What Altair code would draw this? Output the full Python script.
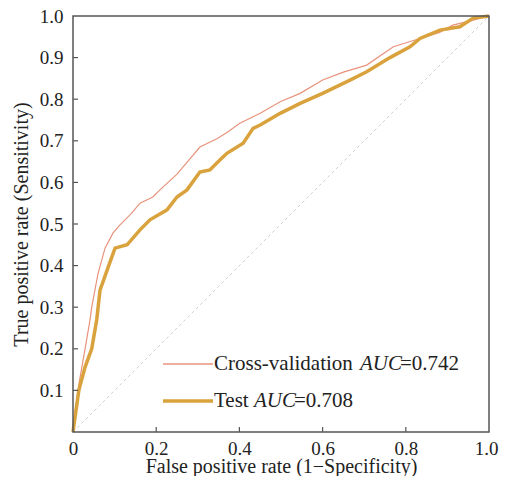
import altair as alt
import pandas as pd

# ROC curve values
cv_fpr = [0, 0.005, 0.015, 0.029, 0.041, 0.045, 0.06, 0.077, 0.096, 0.113, 0.14, 0.161, 0.192, 0.209, 0.25, 0.274,
          0.305, 0.346, 0.37, 0.401, 0.45, 0.498, 0.546, 0.60, 0.65, 0.706, 0.77, 0.834, 0.88, 0.913, 0.962, 1.0]
cv_tpr = [0, 0.05, 0.12, 0.2, 0.27, 0.30, 0.38, 0.442, 0.478, 0.498, 0.525, 0.55, 0.565, 0.582, 0.62, 0.648,
          0.685, 0.705, 0.72, 0.742, 0.766, 0.794, 0.814, 0.846, 0.865, 0.882, 0.926, 0.946, 0.96, 0.978, 0.99, 1.0]

test_fpr = [0, 0.007, 0.014, 0.029, 0.045, 0.057, 0.065, 0.082, 0.101, 0.13, 0.161, 0.185, 0.226, 0.25, 0.274,
            0.305, 0.329, 0.353, 0.37, 0.409, 0.433, 0.45, 0.498, 0.546, 0.60, 0.666, 0.706, 0.762, 0.81, 0.834,
            0.882, 0.93, 0.962, 1.0]
test_tpr = [0, 0.05, 0.1, 0.156, 0.2, 0.27, 0.341, 0.389, 0.442, 0.45, 0.486, 0.51, 0.534, 0.565, 0.582,
            0.625, 0.63, 0.654, 0.67, 0.694, 0.73, 0.738, 0.766, 0.79, 0.814, 0.846, 0.866, 0.90, 0.926, 0.946,
            0.966, 0.974, 0.995, 1.0]

diag_x = [0, 1]
diag_y = [0, 1]

x_ticks = [0, 0.2, 0.4, 0.6, 0.8, 1.0]
y_ticks = [0.1, 0.2, 0.3, 0.4, 0.5, 0.6, 0.7, 0.8, 0.9, 1.0]

legend_parts = ["Cross-validation", "AUC", "=0.742", "Test", "AUC", "=0.708"]

FONT = "Liberation Serif"
W, H = 416, 416
CV_COLOR = "#e8937c"
TEST_COLOR = "#d9a23c"
FRAME = "#555"

cv_df = pd.DataFrame({"fpr": cv_fpr, "tpr": cv_tpr, "i": range(len(cv_fpr))})
test_df = pd.DataFrame({"fpr": test_fpr, "tpr": test_tpr, "i": range(len(test_fpr))})
diag_df = pd.DataFrame({"fpr": diag_x, "tpr": diag_y, "i": [0, 1]})

xscale = alt.Scale(domain=[0, 1], nice=False, zero=False)
yscale = alt.Scale(domain=[0, 1], nice=False, zero=False)

xaxis = alt.Axis(values=x_ticks, title="False positive rate (1\u2212Specificity)",
                 labelExpr="datum.value == 0 ? '0' : format(datum.value, '.1f')",
                 labelAlign={"condition": {"test": "datum.value == 1", "value": "right"}, "value": "center"},
                 labelOffset={"condition": {"test": "datum.value == 1", "value": 9}, "value": 0},
                 tickSize=0, domain=False, grid=False, labelPadding=7, labelFlush=False,
                 titleBaseline="alphabetic", titleY=40,
                 labelFontSize=19, titleFontSize=20, labelFont=FONT, titleFont=FONT,
                 labelColor="#222", titleColor="#222", titleFontWeight="normal")
yaxis = alt.Axis(values=y_ticks, title="True positive rate (Sensitivity)", format=".1f",
                 tickSize=0, domain=False, grid=False, labelPadding=10, titlePadding=8, labelFlush=False,
                 labelFontSize=19, titleFontSize=20, labelFont=FONT, titleFont=FONT,
                 labelColor="#222", titleColor="#222", titleFontWeight="normal")

diag = alt.Chart(diag_df).mark_line(color="#cfcfcf", strokeWidth=1, strokeDash=[3, 3]).encode(
    x=alt.X("fpr:Q", scale=xscale, axis=xaxis),
    y=alt.Y("tpr:Q", scale=yscale, axis=yaxis),
    order="i:Q")

cv_line = alt.Chart(cv_df).mark_line(color=CV_COLOR, strokeWidth=1.2).encode(
    x=alt.X("fpr:Q", scale=xscale), y=alt.Y("tpr:Q", scale=yscale), order="i:Q")

test_line = alt.Chart(test_df).mark_line(color=TEST_COLOR, strokeWidth=3.5).encode(
    x=alt.X("fpr:Q", scale=xscale), y=alt.Y("tpr:Q", scale=yscale), order="i:Q")

# inward tick marks
xt_df = pd.DataFrame({"v": x_ticks[1:-1]})
yt_df = pd.DataFrame({"v": y_ticks[:-1]})
xticks = alt.Chart(xt_df).mark_rule(color=FRAME, strokeWidth=1.2).encode(
    x=alt.X("v:Q", scale=xscale), y=alt.value(H), y2=alt.value(H - 5))
yticks = alt.Chart(yt_df).mark_rule(color=FRAME, strokeWidth=1.2).encode(
    y=alt.Y("v:Q", scale=yscale), x=alt.value(0), x2=alt.value(5))

one = pd.DataFrame({"a": [0]})
frame = alt.Chart(one).mark_rect(fill=None, stroke=FRAME, strokeWidth=1.5).encode(
    x=alt.value(0), x2=alt.value(W), y=alt.value(0), y2=alt.value(H))

# legend
leg_cv = alt.Chart(one).mark_rule(color=CV_COLOR, strokeWidth=1.5).encode(
    x=alt.value(90), x2=alt.value(140), y=alt.value(348))
leg_test = alt.Chart(one).mark_rule(color=TEST_COLOR, strokeWidth=3.5).encode(
    x=alt.value(90), x2=alt.value(140), y=alt.value(385))

leg_text_df = pd.DataFrame({
    "t": legend_parts,
    "x": [141, 287, 327, 141, 181, 221],
    "y": [348, 348, 348, 385, 385, 385],
    "it": ["normal", "italic", "normal", "normal", "italic", "normal"],
})


def txt(df, style):
    return alt.Chart(df).mark_text(align="left", baseline="middle", font=FONT, fontSize=21,
                                   color="#222", fontStyle=style).encode(
        text="t:N", x=alt.X("x:Q", scale=None), y=alt.Y("y:Q", scale=None))


leg_norm = txt(leg_text_df[leg_text_df.it == "normal"], "normal")
leg_ital = txt(leg_text_df[leg_text_df.it == "italic"], "italic")

chart = alt.layer(diag, cv_line, test_line, xticks, yticks, frame,
                  leg_cv, leg_test, leg_norm, leg_ital).properties(
    width=W, height=H,
    background="white",
    autosize=alt.AutoSizeParams(type="none"),
    padding={"left": 65, "top": 8, "right": 10, "bottom": 44},
).configure_view(stroke=None)

chart.save("out.html", embed_options={"renderer": "svg", "actions": False})
